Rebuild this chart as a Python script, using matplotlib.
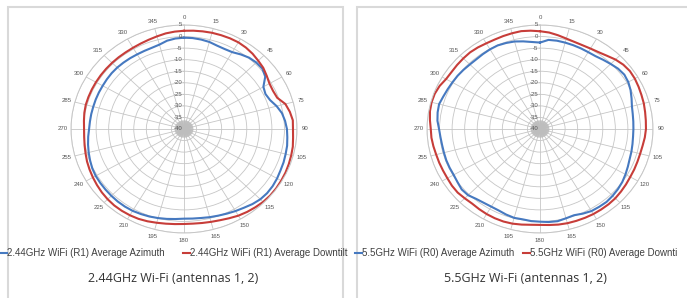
import numpy as np
import matplotlib
matplotlib.use('Agg')
import matplotlib.pyplot as plt
import matplotlib.transforms as mtransforms
from matplotlib.lines import Line2D
from matplotlib.patches import Rectangle

# angles in degrees, every 5 deg (clockwise from north)
angles = np.arange(0, 360, 5)

# 2.44 GHz, gain in dB
az_24 = [-0.5, -0.5, -0.7, -1.0, -1.6, -1.8, -1.6, -0.6, 0.3, 0.7, 0.7, -0.5,
         -3.5, -4.2, -3.5, -1.8, -0.4, 0.4, 1.0, 1.3, 1.7, 1.9, 2.2, 2.4,
         2.8, 3.1, 3.2, 3.0, 2.4, 1.6, 1.0, 0.4, -0.1, -0.5, -0.9, -1.1,
         -1.2, -0.9, -0.5, -0.1, 0.3, 0.6, 0.9, 1.0, 1.0, 0.9, 0.8, 0.7,
         0.6, 0.3, -0.2, -0.7, -1.2, -1.7, -2.2, -2.4, -2.5, -2.6, -2.6, -2.6,
         -2.6, -2.5, -2.4, -2.4, -2.5, -2.6, -2.7, -2.7, -2.6, -2.2, -1.2, -0.7]
dt_24 = [2.5, 2.7, 2.9, 3.1, 3.2, 3.3, 3.3, 3.0, 2.5, 1.8, 1.2, 0.2,
         -0.7, -0.9, -0.5, 1.8, 2.8, 3.5, 3.4, 3.6, 4.0, 4.2, 4.4, 4.6,
         4.7, 4.8, 4.8, 4.6, 4.2, 3.8, 3.3, 2.6, 2.0, 1.6, 1.3, 1.1,
         1.1, 1.3, 1.6, 2.0, 2.5, 2.9, 3.1, 3.2, 3.2, 3.0, 2.7, 2.3,
         1.9, 1.5, 1.1, 0.6, 0.2, -0.1, -0.2, 0.0, 0.3, 0.5, 0.5, 0.5,
         0.5, 0.5, 0.5, 0.5, 0.5, 0.5, 0.6, 0.8, 1.1, 1.5, 2.0, 2.3]

# 5.5 GHz, gain in dB
az_55 = [-2.6, -1.3, -1.2, -1.3, -1.4, -1.5, -1.6, -1.5, -0.9, -0.2, 0.6, 1.0,
         0.6, -0.2, -1.2, -2.1, -2.5, -2.7, -2.8, -2.8, -2.6, -2.3, -2.0, -1.4,
         -0.7, 0.0, 0.5, 0.9, 1.2, 1.1, 1.0, 0.4, -0.3, 0.0, 0.5, 0.4,
         0.1, 0.0, -0.3, -0.2, -0.6, -1.1, -1.2, -1.0, -0.5, 0.5, 0.7, 0.1,
         -0.3, -0.3, -0.3, -0.4, -0.4, -0.2, 0.2, 1.0, 1.4, 1.6, 1.0, 0.6,
         0.3, 0.1, -0.2, -0.5, -0.6, -0.4, -0.2, -0.1, -0.4, -0.8, -1.5, -2.2]
dt_55 = [2.3, 1.9, 1.2, 0.5, 0.1, 0.0, 0.2, 0.6, 1.4, 2.5, 3.3, 3.7,
         3.6, 3.3, 3.0, 2.8, 2.5, 2.3, 2.2, 1.9, 1.5, 1.3, 1.3, 1.4,
         1.5, 1.8, 2.1, 2.4, 2.5, 2.5, 2.5, 2.4, 2.3, 2.2, 2.0, 1.7,
         1.5, 1.6, 2.0, 2.4, 2.6, 2.6, 2.5, 2.3, 2.1, 2.4, 2.8, 2.8,
         2.6, 2.6, 2.7, 2.8, 3.1, 3.4, 3.5, 4.0, 4.5, 4.7, 4.6, 4.1,
         3.2, 3.0, 3.1, 3.2, 3.3, 3.1, 2.8, 2.7, 2.8, 2.9, 3.0, 2.7]

legend_24 = ['2.44GHz WiFi (R1) Average Azimuth', '2.44GHz WiFi (R1) Average Downtilt']
legend_55 = ['5.5GHz WiFi (R0) Average Azimuth', '5.5GHz WiFi (R0) Average Downti']
titles = ['2.44GHz Wi-Fi (antennas 1, 2)', '5.5GHz Wi-Fi (antennas 1, 2)']

rings = list(range(-40, 6, 5))
theta_labels = list(range(0, 360, 15))

BLUE = '#4679c0'
RED = '#c73d39'
GRID = '#c6c6c6'
LABEL = '#555555'

W, H = 687, 298
fig = plt.figure(figsize=(W / 100, H / 100), dpi=100)
plt.rcParams['font.family'] = 'Liberation Sans'


def px(x, y):
    # pixel (from top-left) -> figure fraction
    return x / W, 1 - y / H


# panel frames
for x0, x1 in [(8, 343), (357, 700)]:
    fig.add_artist(Rectangle(px(x0, 320), (x1 - x0) / W, (320 - 7) / H,
                             transform=fig.transFigure, fill=False,
                             edgecolor='#d9d9d9', lw=1.5, zorder=0))


def radar(cx, az, dt):
    rx, ry, cy = 113, 104, 129
    ax = fig.add_axes([(cx - rx) / W, (H - cy - ry) / H, 2 * rx / W, 2 * ry / H],
                      projection='polar')
    ax.set_aspect('auto')
    ax.set_theta_zero_location('N')
    ax.set_theta_direction(-1)
    ax.set_ylim(-40, 5)
    ax.set_thetagrids(theta_labels, labels=[])
    ax.set_rgrids(rings[1:], labels=[])
    ax.grid(True, color=GRID, lw=0.6)
    ax.spines['polar'].set_color(GRID)
    ax.spines['polar'].set_linewidth(0.7)
    ax.tick_params(length=0)

    # dense spokes near the centre
    fine = np.deg2rad(np.arange(0, 360, 2.5))
    ax.vlines(fine, -40, -36.3, color='#bdbdbd', lw=0.4)

    for t in theta_labels:
        ax.text(np.deg2rad(t), 8.3, str(t), ha='center', va='center',
                fontsize=4.3, color=LABEL, clip_on=False)
    off = mtransforms.offset_copy(ax.transData, fig=fig, x=-1.2, y=0, units='points')
    for r in rings:
        ax.text(0, r, str(r), transform=off, ha='right', va='center',
                fontsize=4.3, color=LABEL, clip_on=False)

    th = np.deg2rad(np.append(angles, 360))
    ax.plot(th, np.append(az, az[0]), color=BLUE, lw=1.5)
    ax.plot(th, np.append(dt, dt[0]), color=RED, lw=1.5)
    return ax


radar(184, az_24, dt_24)
radar(540, az_55, dt_55)


def legend_item(x, y, color, text):
    x0, yy = px(x, y)
    x1, _ = px(x + 7, y)
    fig.add_artist(Line2D([x0, x1], [yy, yy], color=color, lw=1.5,
                          transform=fig.transFigure))
    fig.text(x1, yy, text, ha='left', va='center', fontsize=7,
             color='#404040')


legend_item(0, 253, BLUE, legend_24[0])
legend_item(183, 253, RED, legend_24[1])
legend_item(355, 253, BLUE, legend_55[0])
legend_item(523, 253, RED, legend_55[1])

for cx, t in zip([173, 525], titles):
    x, y = px(cx, 278)
    fig.text(x, y, t, ha='center', va='center', fontsize=9,
             family='Open Sans', color='#333333')

fig.savefig('out.png', dpi=100, facecolor='white')
